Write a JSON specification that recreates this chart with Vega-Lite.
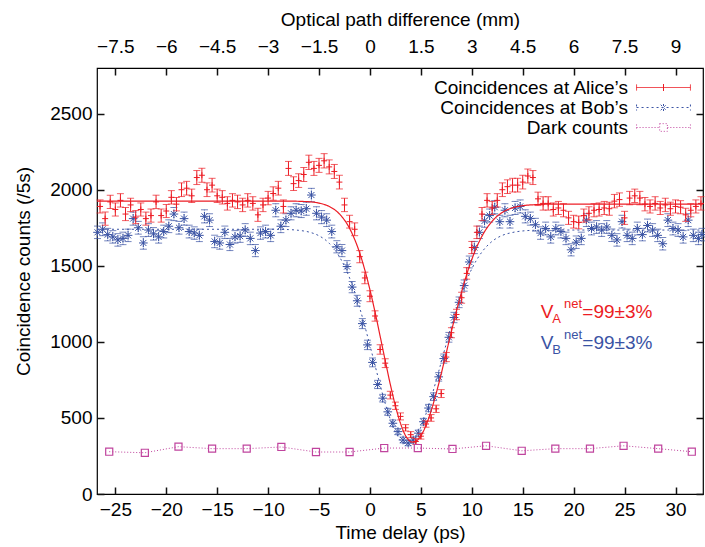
{
"$schema": "https://vega.github.io/schema/vega-lite/v6.json",
"width": 606, "height": 426,
"autosize": "none",
"padding": {"left": 97, "top": 68, "right": 2, "bottom": 53},
"background": "white",
"config": {
  "font": "Liberation Sans",
  "view": {"stroke": "black", "strokeWidth": 1.2},
  "axis": {"grid": false, "domain": false, "labelFont": "Liberation Sans", "titleFont": "Liberation Sans", "labelFontSize": 19, "titleFontSize": 19, "titleFontWeight": "normal", "labelColor": "#000", "titleColor": "#000"},
  "legend": {"orient": "none", "legendX": 557, "legendY": 10, "padding": 0, "labelFont": "Liberation Sans", "labelFontSize": 19, "labelColor": "#000", "labelAlign": "right", "labelOffset": -45, "labelLimit": 400, "symbolSize": 196, "symbolStrokeWidth": 1, "rowPadding": -1.5}
},
"datasets": {
"alice": [
{"t":-26.5,"c":1890,"e":43},{"t":-26,"c":1810,"e":43},{"t":-25.5,"c":1920,"e":44},{"t":-25,"c":1870,"e":43},{"t":-24.5,"c":1930,"e":44},{"t":-24,"c":1840,"e":43},{"t":-23.5,"c":1900,"e":44},{"t":-23,"c":1820,"e":43},{"t":-22.5,"c":1870,"e":43},{"t":-22,"c":1810,"e":43},{"t":-21.5,"c":1830,"e":43},{"t":-21,"c":1920,"e":44},{"t":-20.5,"c":1830,"e":43},{"t":-20,"c":1860,"e":43},{"t":-19.5,"c":1950,"e":44},{"t":-19,"c":1905,"e":44},{"t":-18.5,"c":2000,"e":45},{"t":-18,"c":2010,"e":45},{"t":-17.5,"c":1960,"e":44},{"t":-17,"c":2080,"e":46},{"t":-16.5,"c":2095,"e":46},{"t":-16,"c":2000,"e":45},{"t":-15.5,"c":2030,"e":45},{"t":-15,"c":1960,"e":44},{"t":-14.5,"c":1950,"e":44},{"t":-14,"c":1910,"e":44},{"t":-13.5,"c":1930,"e":44},{"t":-13,"c":1920,"e":44},{"t":-12.5,"c":1900,"e":44},{"t":-12,"c":1930,"e":44},{"t":-11.5,"c":1910,"e":44},{"t":-11,"c":1835,"e":43},{"t":-10.5,"c":1900,"e":44},{"t":-10,"c":1945,"e":44},{"t":-9.5,"c":1975,"e":44},{"t":-9,"c":2010,"e":45},{"t":-8.5,"c":1890,"e":43},{"t":-8,"c":2140,"e":46},{"t":-7.5,"c":2040,"e":45},{"t":-7,"c":2060,"e":45},{"t":-6.5,"c":2100,"e":46},{"t":-6,"c":2180,"e":47},{"t":-5.5,"c":2140,"e":46},{"t":-5,"c":2160,"e":46},{"t":-4.5,"c":2190,"e":47},{"t":-4,"c":2150,"e":46},{"t":-3.5,"c":2120,"e":46},{"t":-3,"c":2050,"e":45},{"t":-2.5,"c":1900,"e":44},{"t":-2,"c":1790,"e":42},{"t":-1.5,"c":1740,"e":42},{"t":-1,"c":1560,"e":40},{"t":-0.5,"c":1420,"e":38},{"t":0,"c":1300,"e":36},{"t":0.5,"c":1170,"e":34},{"t":1,"c":950,"e":31},{"t":1.5,"c":860,"e":29},{"t":2,"c":650,"e":25},{"t":2.5,"c":580,"e":24},{"t":3,"c":510,"e":23},{"t":3.5,"c":435,"e":21},{"t":4,"c":390,"e":20},{"t":4.5,"c":345,"e":19},{"t":5,"c":380,"e":19},{"t":5.5,"c":460,"e":21},{"t":6,"c":500,"e":22},{"t":6.5,"c":560,"e":24},{"t":7,"c":660,"e":26},{"t":7.5,"c":900,"e":30},{"t":8,"c":1060,"e":33},{"t":8.5,"c":1180,"e":34},{"t":9,"c":1290,"e":36},{"t":9.5,"c":1450,"e":38},{"t":10,"c":1620,"e":40},{"t":10.5,"c":1720,"e":41},{"t":11,"c":1840,"e":43},{"t":11.5,"c":1930,"e":44},{"t":12,"c":1880,"e":43},{"t":12.5,"c":1930,"e":44},{"t":13,"c":2000,"e":45},{"t":13.5,"c":2020,"e":45},{"t":14,"c":2030,"e":45},{"t":14.5,"c":2030,"e":45},{"t":15,"c":2050,"e":45},{"t":15.5,"c":2090,"e":46},{"t":16,"c":2080,"e":46},{"t":16.5,"c":1940,"e":44},{"t":17,"c":1910,"e":44},{"t":17.5,"c":1910,"e":44},{"t":18,"c":1870,"e":43},{"t":18.5,"c":1880,"e":43},{"t":19,"c":1865,"e":43},{"t":19.5,"c":1815,"e":43},{"t":20,"c":1790,"e":42},{"t":20.5,"c":1785,"e":42},{"t":21,"c":1830,"e":43},{"t":21.5,"c":1845,"e":43},{"t":22,"c":1865,"e":43},{"t":22.5,"c":1870,"e":43},{"t":23,"c":1880,"e":43},{"t":23.5,"c":1875,"e":43},{"t":24,"c":1925,"e":44},{"t":24.5,"c":1935,"e":44},{"t":25,"c":1815,"e":43},{"t":25.5,"c":1945,"e":44},{"t":26,"c":1960,"e":44},{"t":26.5,"c":1945,"e":44},{"t":27,"c":1905,"e":44},{"t":27.5,"c":1890,"e":43},{"t":28,"c":1910,"e":44},{"t":28.5,"c":1880,"e":43},{"t":29,"c":1900,"e":44},{"t":29.5,"c":1875,"e":43},{"t":30,"c":1890,"e":43},{"t":30.5,"c":1885,"e":43},{"t":31,"c":1835,"e":43},{"t":31.5,"c":1865,"e":43},{"t":32,"c":1890,"e":43},{"t":32.5,"c":1910,"e":44}
],
"bob": [
{"t":-26.75,"c":1720,"e":41},{"t":-26.25,"c":1740,"e":42},{"t":-25.75,"c":1705,"e":41},{"t":-25.25,"c":1690,"e":41},{"t":-24.75,"c":1670,"e":41},{"t":-24.25,"c":1680,"e":41},{"t":-23.75,"c":1700,"e":41},{"t":-23.25,"c":1810,"e":43},{"t":-22.75,"c":1750,"e":42},{"t":-22.25,"c":1650,"e":41},{"t":-21.75,"c":1735,"e":42},{"t":-21.25,"c":1710,"e":41},{"t":-20.75,"c":1690,"e":41},{"t":-20.25,"c":1725,"e":42},{"t":-19.75,"c":1760,"e":42},{"t":-19.25,"c":1840,"e":43},{"t":-18.75,"c":1750,"e":42},{"t":-18.25,"c":1810,"e":43},{"t":-17.75,"c":1725,"e":42},{"t":-17.25,"c":1715,"e":41},{"t":-16.75,"c":1700,"e":41},{"t":-16.25,"c":1825,"e":43},{"t":-15.75,"c":1800,"e":42},{"t":-15.25,"c":1660,"e":41},{"t":-14.75,"c":1650,"e":41},{"t":-14.25,"c":1720,"e":41},{"t":-13.75,"c":1640,"e":40},{"t":-13.25,"c":1690,"e":41},{"t":-12.75,"c":1695,"e":41},{"t":-12.25,"c":1735,"e":42},{"t":-11.75,"c":1680,"e":41},{"t":-11.25,"c":1600,"e":40},{"t":-10.75,"c":1715,"e":41},{"t":-10.25,"c":1725,"e":42},{"t":-9.75,"c":1700,"e":41},{"t":-9.25,"c":1865,"e":43},{"t":-8.75,"c":1760,"e":42},{"t":-8.25,"c":1800,"e":42},{"t":-7.75,"c":1845,"e":43},{"t":-7.25,"c":1865,"e":43},{"t":-6.75,"c":1860,"e":43},{"t":-6.25,"c":1875,"e":43},{"t":-5.75,"c":1965,"e":44},{"t":-5.25,"c":1845,"e":43},{"t":-4.75,"c":1820,"e":43},{"t":-4.25,"c":1800,"e":42},{"t":-3.75,"c":1725,"e":42},{"t":-3.25,"c":1625,"e":40},{"t":-2.75,"c":1600,"e":40},{"t":-2.25,"c":1495,"e":39},{"t":-1.75,"c":1360,"e":37},{"t":-1.25,"c":1270,"e":36},{"t":-0.75,"c":1120,"e":33},{"t":-0.25,"c":980,"e":31},{"t":0.25,"c":865,"e":29},{"t":0.75,"c":720,"e":27},{"t":1.25,"c":630,"e":25},{"t":1.75,"c":540,"e":23},{"t":2.25,"c":465,"e":22},{"t":2.75,"c":410,"e":20},{"t":3.25,"c":355,"e":19},{"t":3.75,"c":335,"e":18},{"t":4.25,"c":355,"e":19},{"t":4.75,"c":400,"e":20},{"t":5.25,"c":475,"e":22},{"t":5.75,"c":565,"e":24},{"t":6.25,"c":640,"e":25},{"t":6.75,"c":770,"e":28},{"t":7.25,"c":890,"e":30},{"t":7.75,"c":1030,"e":32},{"t":8.25,"c":1160,"e":34},{"t":8.75,"c":1260,"e":35},{"t":9.25,"c":1370,"e":37},{"t":9.75,"c":1525,"e":39},{"t":10.25,"c":1620,"e":40},{"t":10.75,"c":1720,"e":41},{"t":11.25,"c":1795,"e":42},{"t":11.75,"c":1830,"e":43},{"t":12.25,"c":1885,"e":43},{"t":12.75,"c":1790,"e":42},{"t":13.25,"c":1865,"e":43},{"t":13.75,"c":1790,"e":42},{"t":14.25,"c":1880,"e":43},{"t":14.75,"c":1890,"e":43},{"t":15.25,"c":1825,"e":43},{"t":15.75,"c":1810,"e":43},{"t":16.25,"c":1770,"e":42},{"t":16.75,"c":1715,"e":41},{"t":17.25,"c":1745,"e":42},{"t":17.75,"c":1690,"e":41},{"t":18.25,"c":1745,"e":42},{"t":18.75,"c":1725,"e":42},{"t":19.25,"c":1680,"e":41},{"t":19.75,"c":1605,"e":40},{"t":20.25,"c":1655,"e":41},{"t":20.75,"c":1680,"e":41},{"t":21.25,"c":1800,"e":42},{"t":21.75,"c":1745,"e":42},{"t":22.25,"c":1755,"e":42},{"t":22.75,"c":1735,"e":42},{"t":23.25,"c":1755,"e":42},{"t":23.75,"c":1700,"e":41},{"t":24.25,"c":1670,"e":41},{"t":24.75,"c":1790,"e":42},{"t":25.25,"c":1700,"e":41},{"t":25.75,"c":1680,"e":41},{"t":26.25,"c":1745,"e":42},{"t":26.75,"c":1705,"e":41},{"t":27.25,"c":1765,"e":42},{"t":27.75,"c":1735,"e":42},{"t":28.25,"c":1700,"e":41},{"t":28.75,"c":1645,"e":41},{"t":29.25,"c":1800,"e":42},{"t":29.75,"c":1745,"e":42},{"t":30.25,"c":1735,"e":42},{"t":30.75,"c":1690,"e":41},{"t":31.25,"c":1800,"e":42},{"t":31.75,"c":1700,"e":41},{"t":32.25,"c":1680,"e":41},{"t":32.6,"c":1705,"e":41}
],
"dark": [
{"t":-25.6,"c":278,"s":"Dark counts"},{"t":-22.1,"c":271,"s":"Dark counts"},{"t":-18.8,"c":311,"s":"Dark counts"},{"t":-15.5,"c":298,"s":"Dark counts"},{"t":-12.1,"c":298,"s":"Dark counts"},{"t":-8.7,"c":309,"s":"Dark counts"},{"t":-5.3,"c":276,"s":"Dark counts"},{"t":-2.0,"c":276,"s":"Dark counts"},{"t":1.4,"c":302,"s":"Dark counts"},{"t":4.7,"c":302,"s":"Dark counts"},{"t":8.1,"c":296,"s":"Dark counts"},{"t":11.4,"c":317,"s":"Dark counts"},{"t":14.9,"c":284,"s":"Dark counts"},{"t":18.2,"c":298,"s":"Dark counts"},{"t":21.6,"c":298,"s":"Dark counts"},{"t":24.9,"c":317,"s":"Dark counts"},{"t":28.3,"c":298,"s":"Dark counts"},{"t":31.6,"c":278,"s":"Dark counts"}
],
"fitA": [
{"t":-26.8,"c":1925},{"t":-10,"c":1925},{"t":-8,"c":1925},{"t":-6,"c":1921},{"t":-5,"c":1912},{"t":-4,"c":1890},{"t":-3,"c":1841},{"t":-2,"c":1746},{"t":-1,"c":1583},{"t":0,"c":1342},{"t":0.5,"c":1196},{"t":1,"c":1037},{"t":1.5,"c":876},{"t":2,"c":720},{"t":2.5,"c":579},{"t":3,"c":464},{"t":3.5,"c":383},{"t":4,"c":344},{"t":4.2,"c":340},{"t":4.5,"c":346},{"t":5,"c":382},{"t":5.5,"c":451},{"t":6,"c":545},{"t":6.5,"c":661},{"t":7,"c":791},{"t":7.5,"c":930},{"t":8,"c":1069},{"t":8.5,"c":1204},{"t":9,"c":1329},{"t":9.5,"c":1443},{"t":10,"c":1542},{"t":11,"c":1695},{"t":12,"c":1793},{"t":13,"c":1851},{"t":14,"c":1881},{"t":15,"c":1895},{"t":16,"c":1901},{"t":18,"c":1905},{"t":32.7,"c":1905}
],
"fitB": [
{"t":-26.8,"c":1740},{"t":-10,"c":1740},{"t":-8,"c":1738},{"t":-7,"c":1733},{"t":-6,"c":1722},{"t":-5,"c":1697},{"t":-4,"c":1648},{"t":-3,"c":1560},{"t":-2,"c":1420},{"t":-1,"c":1221},{"t":0,"c":976},{"t":0.5,"c":845},{"t":1,"c":716},{"t":1.5,"c":595},{"t":2,"c":491},{"t":2.5,"c":409},{"t":3,"c":354},{"t":3.6,"c":330},{"t":4,"c":339},{"t":4.5,"c":376},{"t":5,"c":440},{"t":5.5,"c":526},{"t":6,"c":630},{"t":6.5,"c":745},{"t":7,"c":867},{"t":7.5,"c":989},{"t":8,"c":1108},{"t":8.5,"c":1218},{"t":9,"c":1318},{"t":10,"c":1480},{"t":11,"c":1591},{"t":12,"c":1661},{"t":13,"c":1700},{"t":14,"c":1719},{"t":15,"c":1729},{"t":16,"c":1733},{"t":18,"c":1735},{"t":32.7,"c":1735}
]
},
"resolve": {"axis": {"x": "independent", "y": "independent"}},
"layer": [
{
  "data": {"name": "dark"},
  "mark": {"type": "line", "strokeWidth": 1, "clip": true},
  "encoding": {
    "x": {"field": "t", "type": "quantitative", "scale": {"domain": [-26.8, 32.7], "nice": false, "zero": false},
          "axis": {"orient": "bottom", "values": [-25,-20,-15,-10,-5,0,5,10,15,20,25,30], "title": "Time delay (ps)", "labelPadding": 6, "titlePadding": 4, "offset": -7, "tickSize": 7, "tickWidth": 1.5, "tickColor": "#111"}},
    "y": {"field": "c", "type": "quantitative", "scale": {"domain": [0, 2800], "nice": false},
          "axis": {"orient": "left", "values": [0,500,1000,1500,2000,2500], "format": "d", "title": "Coincidence counts (/5s)", "labelPadding": 5, "titlePadding": 16, "titleY": 203, "offset": -7, "tickSize": 7, "tickWidth": 1.5, "tickColor": "#111"}},
    "color": {"field": "s", "type": "nominal",
      "scale": {"domain": ["Coincidences at Alice’s", "Coincidences at Bob’s", "Dark counts"], "range": ["#ec1c24", "#3a53a4", "#c0449e"]},
      "legend": {"title": null, "encode": {"symbols": {"update": {"shape": [
        {"test": "indexof(datum.value, 'Dark') >= 0", "value": "M-3.85,0H-0.55M0.55,0H3.85M-3.85,-0.43V0.43M3.85,-0.43V0.43M-0.55,-0.55H0.55V0.55H-0.55Z"},
        {"test": "indexof(datum.value, 'Bob') >= 0", "value": "M-3.85,0H3.85M-3.85,-0.43V0.43M3.85,-0.43V0.43M0,-0.5V0.5M-0.4,-0.4L0.4,0.4M-0.4,0.4L0.4,-0.4"},
        {"value": "M-3.85,0H3.85M-3.85,-0.43V0.43M3.85,-0.43V0.43M0,-0.5V0.5"}]}}}}},
    "strokeDash": {"field": "s", "type": "nominal",
      "scale": {"domain": ["Coincidences at Alice’s", "Coincidences at Bob’s", "Dark counts"], "range": [[1,0],[2,3],[1,2]]},
      "legend": {"title": null}}
  }
},
{
  "data": {"name": "bob"},
  "mark": {"type": "errorbar", "color": "#3a53a4", "rule": {"strokeDash": [1, 1.5], "strokeWidth": 1}, "ticks": {"size": 7, "thickness": 1}},
  "encoding": {
    "x": {"field": "t", "type": "quantitative", "axis": null},
    "y": {"field": "c", "type": "quantitative", "axis": null},
    "yError": {"field": "e"}
  }
},
{
  "data": {"name": "bob"},
  "mark": {"type": "point", "shape": "M-1,0H1M0,-1V1M-0.7,-0.7L0.7,0.7M-0.7,0.7L0.7,-0.7", "size": 75, "filled": false, "color": "#3a53a4", "strokeWidth": 1, "opacity": 1},
  "encoding": {
    "x": {"field": "t", "type": "quantitative", "axis": null},
    "y": {"field": "c", "type": "quantitative", "axis": null}
  }
},
{
  "data": {"name": "alice"},
  "mark": {"type": "errorbar", "color": "#ec1c24", "rule": {"strokeWidth": 1}, "ticks": {"size": 7, "thickness": 1}},
  "encoding": {
    "x": {"field": "t", "type": "quantitative", "axis": null},
    "y": {"field": "c", "type": "quantitative", "axis": null},
    "yError": {"field": "e"}
  }
},
{
  "data": {"name": "alice"},
  "mark": {"type": "point", "shape": "M-1,0H1M0,-1V1", "size": 36, "filled": false, "color": "#ec1c24", "strokeWidth": 1, "opacity": 1},
  "encoding": {
    "x": {"field": "t", "type": "quantitative", "axis": null},
    "y": {"field": "c", "type": "quantitative", "axis": null}
  }
},
{
  "data": {"name": "fitB"},
  "mark": {"type": "line", "strokeWidth": 1, "interpolate": "monotone"},
  "encoding": {
    "x": {"field": "t", "type": "quantitative", "axis": null},
    "y": {"field": "c", "type": "quantitative", "axis": null},
    "color": {"datum": "Coincidences at Bob’s", "type": "nominal"},
    "strokeDash": {"datum": "Coincidences at Bob’s", "type": "nominal"}
  }
},
{
  "data": {"name": "fitA"},
  "mark": {"type": "line", "strokeWidth": 1.2, "interpolate": "monotone"},
  "encoding": {
    "x": {"field": "t", "type": "quantitative", "axis": null},
    "y": {"field": "c", "type": "quantitative", "axis": null},
    "color": {"datum": "Coincidences at Alice’s", "type": "nominal"},
    "strokeDash": {"datum": "Coincidences at Alice’s", "type": "nominal"}
  }
},
{
  "data": {"name": "dark"},
  "mark": {"type": "point", "shape": "square", "size": 50, "filled": false, "color": "#c0449e", "strokeWidth": 1.2, "opacity": 1},
  "encoding": {
    "x": {"field": "t", "type": "quantitative", "axis": null},
    "y": {"field": "c", "type": "quantitative", "axis": null}
  }
},
{
  "data": {"values": [{"t": 16.77, "c": 1154, "txt": "V"}, {"t": 20.85, "c": 1154, "txt": "=99±3%"}]},
  "mark": {"type": "text", "align": "left", "baseline": "alphabetic", "fontSize": 19, "color": "#ec1c24", "font": "Liberation Sans"},
  "encoding": {"x": {"field": "t", "type": "quantitative", "axis": null}, "y": {"field": "c", "type": "quantitative", "axis": null}, "text": {"field": "txt"}}
},
{
  "data": {"values": [{"t": 17.91, "c": 1121, "txt": "A"}, {"t": 19.06, "c": 1220, "txt": "net"}]},
  "mark": {"type": "text", "align": "left", "baseline": "alphabetic", "fontSize": 13, "color": "#ec1c24", "font": "Liberation Sans"},
  "encoding": {"x": {"field": "t", "type": "quantitative", "axis": null}, "y": {"field": "c", "type": "quantitative", "axis": null}, "text": {"field": "txt"}}
},
{
  "data": {"values": [{"t": 16.77, "c": 956, "txt": "V"}, {"t": 20.85, "c": 956, "txt": "=99±3%"}]},
  "mark": {"type": "text", "align": "left", "baseline": "alphabetic", "fontSize": 19, "color": "#3a53a4", "font": "Liberation Sans"},
  "encoding": {"x": {"field": "t", "type": "quantitative", "axis": null}, "y": {"field": "c", "type": "quantitative", "axis": null}, "text": {"field": "txt"}}
},
{
  "data": {"values": [{"t": 17.91, "c": 923, "txt": "B"}, {"t": 19.06, "c": 1022, "txt": "net"}]},
  "mark": {"type": "text", "align": "left", "baseline": "alphabetic", "fontSize": 13, "color": "#3a53a4", "font": "Liberation Sans"},
  "encoding": {"x": {"field": "t", "type": "quantitative", "axis": null}, "y": {"field": "c", "type": "quantitative", "axis": null}, "text": {"field": "txt"}}
},
{
  "data": {"name": "dark"},
  "mark": {"type": "point", "opacity": 0},
  "encoding": {
    "x": {"field": "t", "type": "quantitative",
          "axis": {"orient": "top", "values": [-25,-20,-15,-10,-5,0,5,10,15,20,25,30], "labelExpr": "format(datum.value * 0.3, '.1~f')", "title": "Optical path difference (mm)", "labelPadding": 12, "titlePadding": 8, "offset": -7, "tickSize": 7, "tickWidth": 1.5, "tickColor": "#111"}},
    "y": {"field": "c", "type": "quantitative",
          "axis": {"orient": "right", "values": [0,500,1000,1500,2000,2500], "labels": false, "title": null, "offset": -7, "tickSize": 7, "tickWidth": 1.5, "tickColor": "#111"}}
  }
}
]
}
